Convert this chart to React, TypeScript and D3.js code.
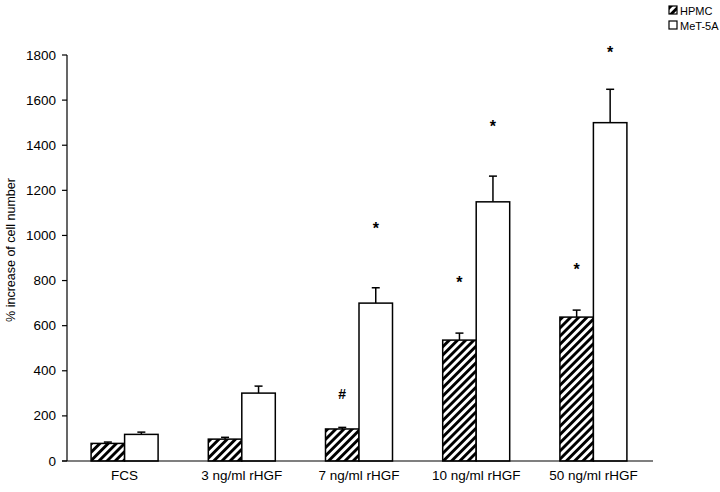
import React from "react";
import * as d3 from "d3";

const categories = ["FCS", "3 ng/ml rHGF", "7 ng/ml rHGF", "10 ng/ml rHGF", "50 ng/ml rHGF"];
const seriesNames = ["HPMC", "MeT-5A"];
const hpmcValues = [78, 97, 142, 536, 638];
const hpmcErrors = [6, 8, 7, 31, 31];
const met5aValues = [118, 301, 700, 1149, 1500];
const met5aErrors = [10, 31, 68, 114, 148];
// annotation marks: [category index, series index, symbol, y value in data units]
const annotations: [number, number, string, number][] = [
  [2, 0, "#", 295],
  [2, 1, "*", 1033],
  [3, 0, "*", 790],
  [3, 1, "*", 1485],
  [4, 0, "*", 850],
  [4, 1, "*", 1813],
];
const yTicks = [0, 200, 400, 600, 800, 1000, 1200, 1400, 1600, 1800];

const W = 720;
const H = 492;
const FONT = "'Liberation Sans', Arial, Helvetica, sans-serif";

export default function App() {
  const x0 = d3.scaleBand<string>().domain(categories).range([66, 652]).paddingInner(0).paddingOuter(0);
  const x1 = d3.scaleBand<string>().domain(seriesNames).range([0, 67]).padding(0);
  const y = d3.scaleLinear().domain([0, 1800]).range([461, 55]);
  const seriesVals = [hpmcValues, met5aValues];
  const seriesErr = [hpmcErrors, met5aErrors];
  const groupLeft = (c: string) => (x0(c) as number) + x0.bandwidth() / 2 - 33.5;

  return (
    <svg width={W} height={H} style={{ position: "absolute", left: 0, top: 0, background: "#fff" }}>
      <defs>
        <pattern id="hatch" patternUnits="userSpaceOnUse" width="5.8" height="5.8" patternTransform="rotate(45)">
          <rect width="5.8" height="5.8" fill="#fff" />
          <rect x="0" y="0" width="2.9" height="5.8" fill="#000" />
        </pattern>
      </defs>
      <rect x={0} y={0} width={W} height={H} fill="#fff" />
      {/* bars */}
      {categories.map((c, i) => (
        <g key={c}>
          {seriesNames.map((s, si) => {
            const bx = groupLeft(c) + (x1(s) as number);
            const v = seriesVals[si][i];
            const e = seriesErr[si][i];
            const bw = x1.bandwidth();
            const cx = bx + bw / 2;
            return (
              <g key={s}>
                <line x1={cx} x2={cx} y1={y(v)} y2={y(v + e)} stroke="#000" strokeWidth={1.5} />
                <line x1={cx - 4} x2={cx + 4} y1={y(v + e)} y2={y(v + e)} stroke="#000" strokeWidth={1.5} />
                <rect
                  x={bx}
                  y={y(v)}
                  width={bw}
                  height={y(0) - y(v)}
                  fill={si === 0 ? "url(#hatch)" : "#fff"}
                  stroke="#000"
                  strokeWidth={1.5}
                />
              </g>
            );
          })}
        </g>
      ))}
      {/* annotations */}
      {annotations.map(([ci, si, sym, val], k) => {
        const c = categories[ci];
        const cx = groupLeft(c) + (x1(seriesNames[si]) as number) + x1.bandwidth() / 2;
        return (
          <text
            key={k}
            x={cx}
            y={y(val)}
            textAnchor="middle"
            dominantBaseline="central"
            fontFamily={FONT}
            fontSize={sym === "#" ? 14 : 16}
            fontWeight="bold"
          >
            {sym}
          </text>
        );
      })}
      {/* y axis */}
      <line x1={67} x2={67} y1={y(1800)} y2={y(0)} stroke="#000" strokeWidth={1.2} />
      {yTicks.map((t) => (
        <g key={t}>
          <line x1={62} x2={67} y1={y(t)} y2={y(t)} stroke="#000" strokeWidth={1.2} />
          <text x={56} y={y(t)} textAnchor="end" dominantBaseline="central" fontFamily={FONT} fontSize={13.5}>
            {t}
          </text>
        </g>
      ))}
      {/* x axis */}
      <line x1={62} x2={653} y1={y(0)} y2={y(0)} stroke="#000" strokeWidth={1.2} />
      {categories.map((c) => (
        <text
          key={c}
          x={(x0(c) as number) + x0.bandwidth() / 2}
          y={475}
          textAnchor="middle"
          dominantBaseline="central"
          fontFamily={FONT}
          fontSize={13.5}
        >
          {c}
        </text>
      ))}
      <text
        transform={`translate(11, 250) rotate(-90)`}
        textAnchor="middle"
        dominantBaseline="central"
        fontFamily={FONT}
        fontSize={12.5}
      >
        % increase of cell number
      </text>
      {/* legend */}
      {seriesNames.map((s, si) => (
        <g key={s} transform={`translate(669, ${6 + si * 15})`}>
          <rect x={0} y={0} width={8} height={8} fill={si === 0 ? "url(#hatch)" : "#fff"} stroke="#000" strokeWidth={1.2} />
          <text x={11} y={4.5} dominantBaseline="central" fontFamily={FONT} fontSize={11}>
            {s}
          </text>
        </g>
      ))}
    </svg>
  );
}
